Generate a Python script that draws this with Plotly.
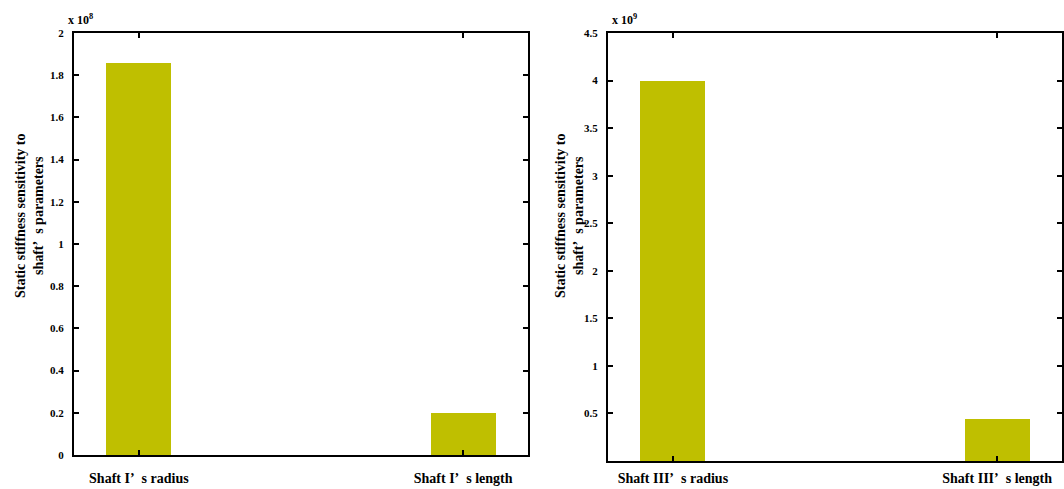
import plotly.graph_objects as go

W, H = 1064, 489

categories_left = ["Shaft I\u2019\u2002s radius", "Shaft I\u2019\u2002s length"]
values_left = [1.858e8, 0.198e8]
categories_right = ["Shaft III\u2019\u2002s radius", "Shaft III\u2019\u2002s length"]
values_right = [4.0e9, 0.44e9]

scale_left = 1e8
scale_right = 1e9
left_ticks = [0, 0.2, 0.4, 0.6, 0.8, 1, 1.2, 1.4, 1.6, 1.8, 2]
right_ticks = [0.5, 1, 1.5, 2, 2.5, 3, 3.5, 4, 4.5]

bar_color = "#BFBF00"
font_fam = "Liberation Serif, Times New Roman, serif"

fig = go.Figure()
fig.add_trace(go.Bar(x=[1, 2], y=[v / scale_left for v in values_left], width=0.2,
                     marker=dict(color=bar_color, line=dict(width=0)),
                     xaxis="x", yaxis="y", showlegend=False))
fig.add_trace(go.Bar(x=[1, 2], y=[v / scale_right for v in values_right], width=0.2,
                     marker=dict(color=bar_color, line=dict(width=0)),
                     xaxis="x2", yaxis="y2", showlegend=False))

def px(x):
    return x / W

def py(y):
    return 1 - y / H

base = dict(showline=True, linecolor="black", linewidth=2, mirror="ticks",
            ticks="inside", ticklen=5, tickcolor="black", tickwidth=1.5,
            showgrid=False, zeroline=False, automargin=False)
ytickfont = dict(family=font_fam, size=11, color="black", weight="bold")
xtickfont = dict(family=font_fam, size=14, color="black", weight="bold")

fig.update_layout(
    width=W, height=H,
    margin=dict(l=0, r=0, t=0, b=0),
    paper_bgcolor="white", plot_bgcolor="white",
    bargap=0,
    xaxis=dict(domain=[px(74), px(528)], range=[0.8, 2.2], tickvals=[1, 2],
               ticktext=categories_left, anchor="y", ticklabelstandoff=9,
               tickfont=xtickfont, **base),
    yaxis=dict(domain=[py(455), py(33)], range=[0, 2], tickvals=left_ticks,
               ticktext=[f"{t:g}" for t in left_ticks], anchor="x", ticklabelstandoff=6,
               tickfont=ytickfont, **base),
    xaxis2=dict(domain=[px(608), px(1062)], range=[0.8, 2.2], tickvals=[1, 2],
                ticktext=categories_right, anchor="y2", ticklabelstandoff=3,
                tickfont=xtickfont, **base),
    yaxis2=dict(domain=[py(461), py(33)], range=[0, 4.5], tickvals=right_ticks,
                ticktext=[f"{t:g}" for t in right_ticks], anchor="x2", ticklabelstandoff=6,
                tickfont=ytickfont, **base),
)

ytitle = "Static stiffness sensitivity to<br>shaft\u2019\u2002s parameters"
for xc in (29, 569):
    fig.add_annotation(text=ytitle, x=px(xc), y=py(216), xref="paper", yref="paper",
                       textangle=-90, showarrow=False, xanchor="center", yanchor="middle",
                       font=dict(family=font_fam, size=14, color="black", weight="bold"))

fig.add_annotation(text="x 10<sup>8</sup>", x=px(66), y=py(29), xref="paper", yref="paper",
                   showarrow=False, xanchor="left", yanchor="bottom",
                   font=dict(family=font_fam, size=12, color="black", weight="bold"))
fig.add_annotation(text="x 10<sup>9</sup>", x=px(610), y=py(29), xref="paper", yref="paper",
                   showarrow=False, xanchor="left", yanchor="bottom",
                   font=dict(family=font_fam, size=12, color="black", weight="bold"))

fig.write_html("out.html")
